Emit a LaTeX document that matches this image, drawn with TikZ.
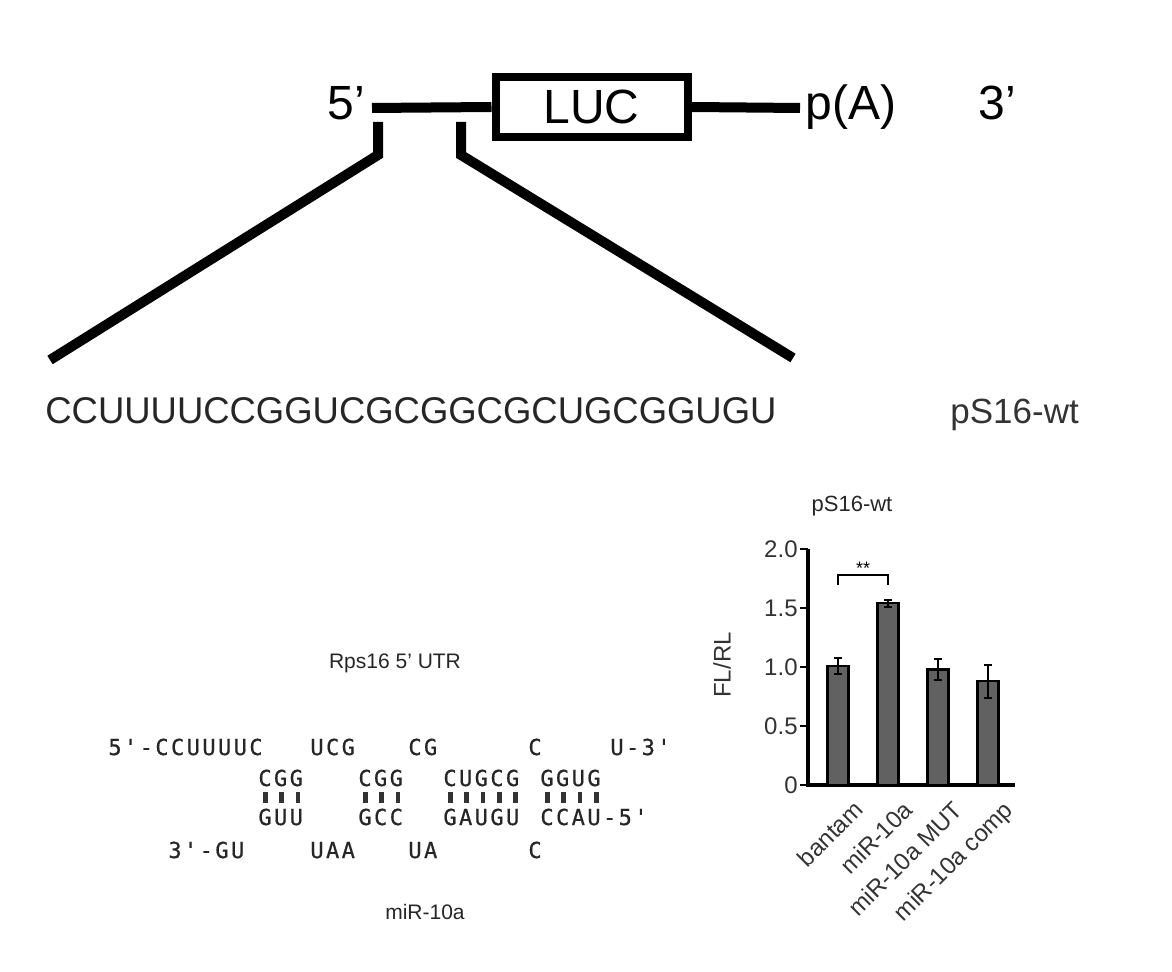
\documentclass[tikz,border=0pt]{standalone}
\usepackage{fontspec}
\setmainfont{Liberation Sans}
\newfontfamily\seqfont[FakeStretch=0.98]{Liberation Sans}
\newfontfamily\mono[LetterSpace=11,FakeBold=0.6]{DejaVu Sans Mono}
\begin{document}
\begin{tikzpicture}[x=0.5pt,y=-0.5pt,
  thk/.style={line width=5pt},
  big/.style={font=\fontsize{24}{28}\selectfont},
  dup/.style={font=\mono\fontsize{11}{13}\selectfont,color=black!85,anchor=base west,inner sep=0pt},
  bar/.style={fill=black!62,draw=black,line width=1.2pt},
  err/.style={line width=1pt},
  tick/.style={font=\fontsize{12}{14}\selectfont\color{black!80},anchor=east},
  xl/.style={font=\fontsize{12}{14}\selectfont\color{black!80},rotate=45,anchor=north east,inner sep=1pt}]
\useasboundingbox (0,0) rectangle (1172,972);
% construct
\node[big,anchor=base east] (p5) at (372,120) {5'};
\coordinate (l1) at (372,108);
\node[draw,line width=4pt,minimum width=96pt,minimum height=30pt,inner sep=0pt,big] (luc) at (591.5,107) {LUC};
\coordinate (l2) at (800,108);
\node[big,anchor=base west,inner sep=0pt] (pa) at (805,120) {p(A)};
\node[big,anchor=base west,inner sep=0pt] (p3) at (978,120) {3'};
\draw[thk] (l1) -- (luc.west) (luc.east) -- (l2);
\coordinate (a1) at (378,122); \coordinate (a2) at (378,155); \coordinate (a3) at (50,360);
\coordinate (b1) at (461,122); \coordinate (b2) at (461,155); \coordinate (b3) at (793,358);
\draw[thk] (a1) -- (a2) -- (a3);
\draw[thk] (b1) -- (b2) -- (b3);
\node[font=\seqfont\fontsize{18.6}{22}\selectfont,color=black!85,anchor=base west,inner sep=0pt] (seq) at (45,424) {CCUUUUCCGGUCGCGGCGCUGCGGUGU};
\node[font=\fontsize{17.5}{20}\selectfont,color=black!80,anchor=base west,inner sep=0pt] (wt) at (950,424) {pS16-wt};
% duplex
\node[font=\fontsize{10.5}{12}\selectfont,color=black!85] (utr) at (395,663) {Rps16 5' UTR};
\node[font=\fontsize{10.5}{12}\selectfont,color=black!85] (mir) at (425,912) {miR-10a};
\node[dup] (r1a) at (108,755) {5'-CCUUUUC};
\node[dup] (r1b) at (310,755) {UCG};
\node[dup] (r1c) at (408,755) {CG};
\node[dup] (r1d) at (528,755) {C};
\node[dup] (r1e) at (610,755) {U-3'};
\node[dup] (r2a) at (258,786) {CGG};
\node[dup] (r2b) at (358,786) {CGG};
\node[dup] (r2c) at (443,786) {CUGCG};
\node[dup] (r2d) at (540,786) {GGUG};
\node[dup] (r3a) at (258,825) {GUU};
\node[dup] (r3b) at (358,825) {GCC};
\node[dup] (r3c) at (443,825) {GAUGU};
\node[dup] (r3d) at (540,825) {CCAU-5'};
\node[dup] (r4a) at (168,858) {3'-GU};
\node[dup] (r4b) at (310,858) {UAA};
\node[dup] (r4c) at (408,858) {UA};
\node[dup] (r4d) at (528,858) {C};
\foreach \s/\n in {258/3,358/3,443/5,540/4}
  \foreach \i in {1,...,\n}
    \draw[line width=2.4pt,black!80] ({\s+7.5+16.2*(\i-1)},792) -- ({\s+7.5+16.2*(\i-1)},803);
% chart
\node[font=\fontsize{11}{13}\selectfont,color=black!85] (title) at (852,506) {pS16-wt};
\coordinate (o) at (808,785);
\coordinate (ytop) at (808,549);
\coordinate (xend) at (1015,785);
\draw[line width=1.6pt] (ytop) -- (o) -- (xend);
\foreach \v/\l in {0/0,0.5/0.5,1/1.0,1.5/1.5,2/2.0}{
  \draw[line width=1.4pt] (800,785-118*\v) -- (808,785-118*\v);
  \node[tick,inner sep=1pt] at (800,785-118*\v) {\l};}
\node[font=\fontsize{12}{14}\selectfont\color{black!80},rotate=90] (ylab) at (722,665) {FL/RL};
\foreach \c/\h/\e/\lab in {838/1.01/0.07/bantam,888/1.54/0.03/miR-10a,938/0.98/0.09/miR-10a MUT,988/0.88/0.14/miR-10a comp}{
  \draw[bar] (\c-10.5,785) rectangle (\c+10.5,785-118*\h);
  \draw[err] (\c,785-118*\h+118*\e) -- (\c,785-118*\h-118*\e)
    (\c-4,785-118*\h-118*\e) -- (\c+4,785-118*\h-118*\e)
    (\c-4,785-118*\h+118*\e) -- (\c+4,785-118*\h+118*\e);
  \node[xl] at (\c+14,796) {\lab};}
\draw[line width=1.4pt] (838,585) -- (838,575) -- (888,575) -- (888,585);
\node[font=\fontsize{9}{10}\selectfont] (sig) at (863,568) {**};
\end{tikzpicture}
\end{document}
